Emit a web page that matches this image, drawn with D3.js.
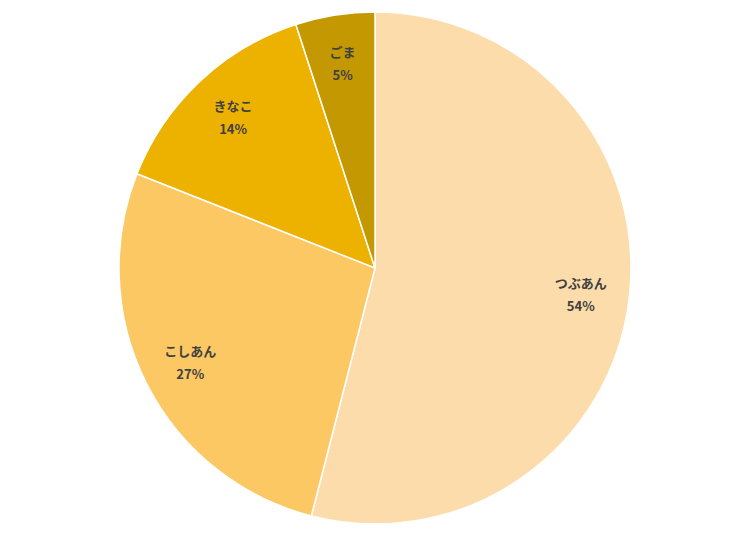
<!doctype html>
<html lang='ja'>
<head>
  <meta charset='utf-8'>
  <title>pie</title>
  <style>
    html, body { margin: 0; padding: 0; background: #fff; }
    svg { display: block; }
    text { font-family: 'Noto Sans CJK JP', sans-serif; font-weight: 700; fill: #404040; }
  </style>
</head>
<body>
  <script src='https://d3js.org/d3.v7.min.js'></script>
  <script>
    const categories = ['つぶあん', 'こしあん', 'きなこ', 'ごま']
    const values = [54, 27, 14, 5]
    const colors = ['#FDDCAB', '#FCC864', '#EDB100', '#C49800']

    const width = 750
    const height = 538
    const cx = 375
    const cy = 268
    const radius = 256

    const data = categories.map((name, i) => ({ name, value: values[i], color: colors[i] }))

    const pie = d3.pie().sort(null).value(d => d.value)
    const arcs = pie(data)

    const arc = d3.arc().innerRadius(0).outerRadius(radius)
    const labelArc = d3.arc().innerRadius(radius * 0.81).outerRadius(radius * 0.81)

    const svg = d3.select('body').append('svg')
      .attr('width', width)
      .attr('height', height)

    const g = svg.append('g')
      .attr('transform', `translate(${cx},${cy})`)

    g.selectAll('path')
      .data(arcs)
      .join('path')
      .attr('d', arc)
      .attr('fill', d => d.data.color)
      .attr('stroke', '#fff')
      .attr('stroke-width', 1.5)

    const total = d3.sum(values)

    const label = g.selectAll('g.label')
      .data(arcs)
      .join('g')
      .attr('class', 'label')
      .attr('transform', d => `translate(${labelArc.centroid(d)})`)

    label.append('text')
      .attr('text-anchor', 'middle')
      .attr('y', -6)
      .style('font-size', '13px')
      .text(d => d.data.name)

    label.append('text')
      .attr('text-anchor', 'middle')
      .attr('y', 17)
      .style('font-size', '13px')
      .text(d => Math.round(d.data.value / total * 100) + '%')
  </script>
</body>
</html>
